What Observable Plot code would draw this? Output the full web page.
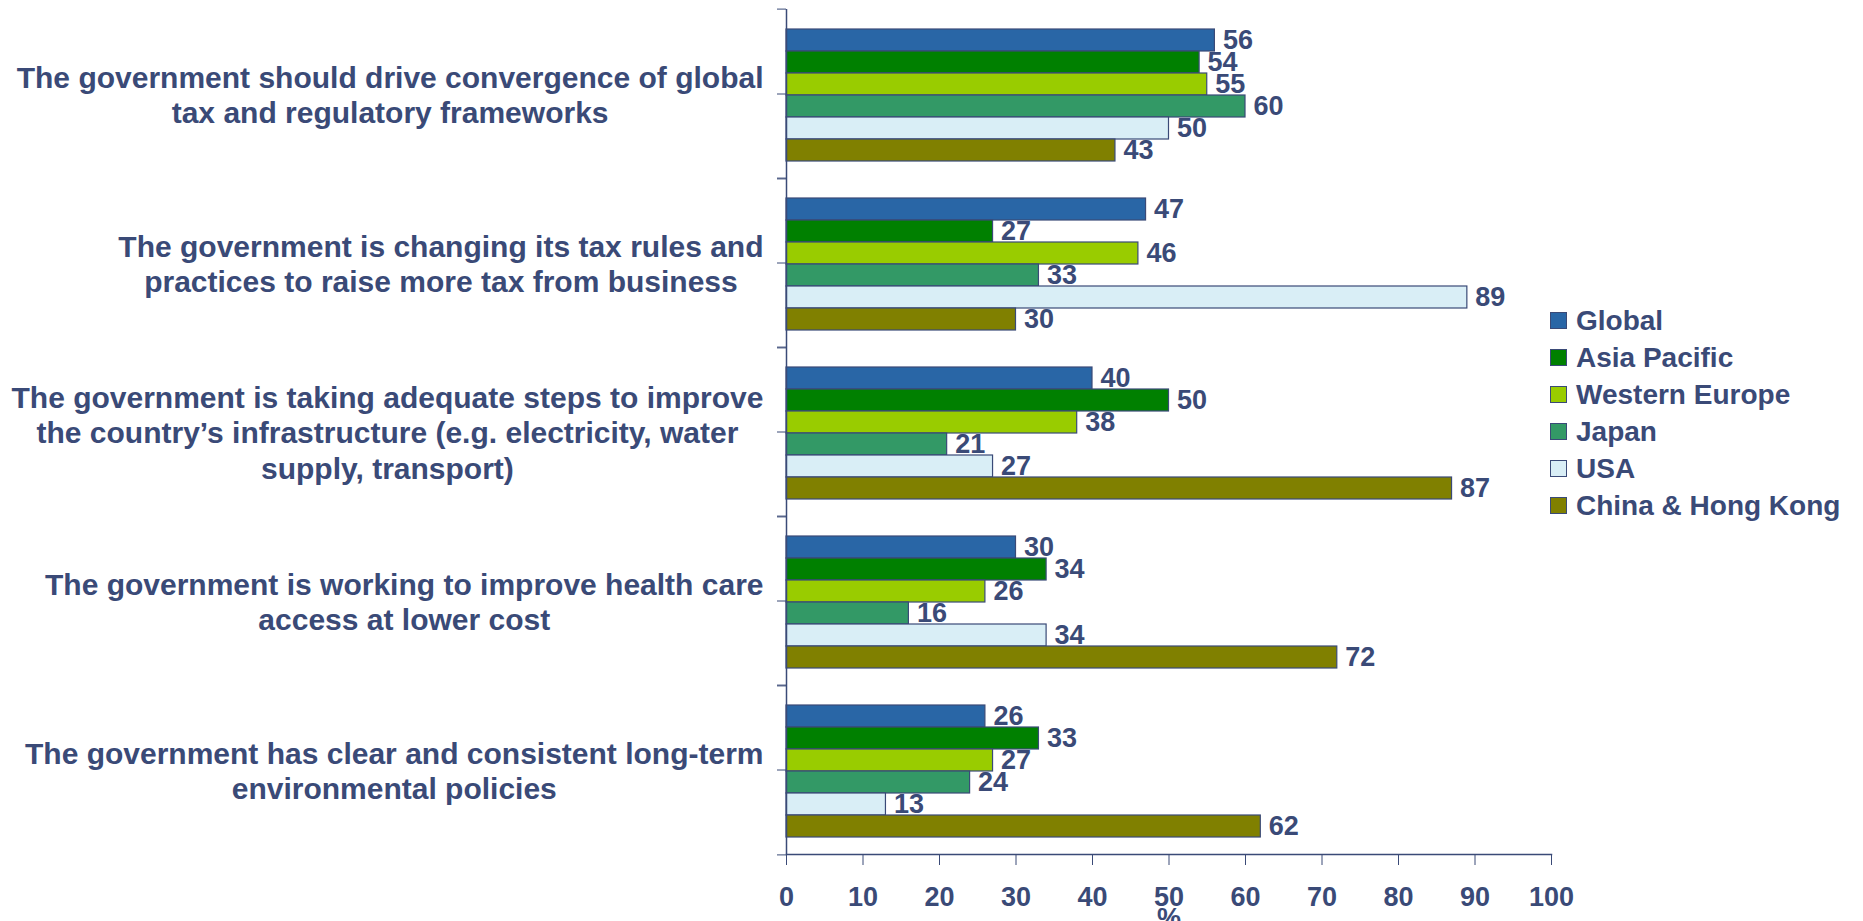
<!DOCTYPE html>
<html>
<head>
<meta charset="utf-8">
<script src="https://cdn.jsdelivr.net/npm/d3@7"></script>
<script src="https://cdn.jsdelivr.net/npm/@observablehq/plot@0.6"></script>
<style>
  html, body { margin: 0; padding: 0; background: #fff; }
  #wrap { position: relative; width: 1863px; height: 921px; overflow: hidden; }
  #legend { position: absolute; left: 1550px; top: 302px; font-family: "Liberation Sans", Arial, sans-serif; font-weight: bold; font-size: 28px; color: #3A4A77; }
  #legend .row { display: flex; align-items: center; height: 37px; white-space: nowrap; }
  #legend .sw { width: 15px; height: 15px; border: 1px solid #3A4A77; margin-right: 9px; flex: none; }
</style>
</head>
<body>
<div id="wrap"><div id="legend"></div></div>
<script>
// ---- data ----
const categories = [
  "The government should drive convergence of global\ntax and regulatory frameworks",
  "The government is changing its tax rules and\npractices to raise more tax from business",
  "The government is taking adequate steps to improve\nthe country\u2019s infrastructure (e.g. electricity, water\nsupply, transport)",
  "The government is working to improve health care\naccess at lower cost",
  "The government has clear and consistent long-term\nenvironmental policies"
];
const series = ["Global", "Asia Pacific", "Western Europe", "Japan", "USA", "China & Hong Kong"];
const globalValues       = [56, 47, 40, 30, 26];
const asiaPacificValues  = [54, 27, 50, 34, 33];
const westernEurope      = [55, 46, 38, 26, 27];
const japanValues        = [60, 33, 21, 16, 24];
const usaValues          = [50, 89, 27, 34, 13];
const chinaHongKong      = [43, 30, 87, 72, 62];
const seriesColors = ["#2966A6", "#008000", "#99CC00", "#339966", "#D9EEF6", "#808000"];
const xTicks = [0, 10, 20, 30, 40, 50, 60, 70, 80, 90, 100];
const xLabel = "%";

const valueLists = [globalValues, asiaPacificValues, westernEurope, japanValues, usaValues, chinaHongKong];
const rows = [];
categories.forEach((c, ci) => {
  series.forEach((s, si) => rows.push({category: c, series: s, value: valueLists[si][ci]}));
});

// ---- layout ----
const W = 1863, H = 921, mL = 786, mR = 312, mT = 7, mB = 65;
const halfStep = (H - mT - mB) / categories.length / 2;
const ink = "#3A4A77";
const font = '"Liberation Sans", Arial, Helvetica, sans-serif';

const chart = Plot.plot({
  width: W, height: H,
  marginLeft: mL, marginRight: mR, marginTop: mT, marginBottom: mB,
  style: {fontFamily: font, color: ink, background: "white", overflow: "visible"},
  x: {domain: [0, 100]},
  y: {domain: series, paddingInner: 0, paddingOuter: 0.72, align: 0.55, axis: null},
  fy: {domain: categories, padding: 0},
  color: {domain: series, range: seriesColors},
  marks: [
    Plot.barX(rows, {x: "value", y: "series", fy: "category", fill: "series", stroke: ink, strokeWidth: 1.2}),
    Plot.text(rows, {x: "value", y: "series", fy: "category", text: d => String(d.value),
      textAnchor: "start", dx: 8, fill: ink, fontSize: 27, fontWeight: "bold"}),
    Plot.ruleX([0], {stroke: ink, strokeWidth: 1.5}),
    Plot.frame({anchor: "bottom", facetAnchor: "bottom", stroke: ink, strokeWidth: 1.5}),
    Plot.axisFy({anchor: "left", tickSize: 9, tickPadding: 14, stroke: ink, fill: ink,
      fontSize: 30, fontWeight: "bold", lineHeight: 1.19, label: null}),
    Plot.axisFy({anchor: "left", tickSize: 9, fill: "none", stroke: ink, dy: -halfStep, label: null}),
    Plot.axisFy({anchor: "left", tickSize: 9, fill: "none", stroke: ink, dy: halfStep, label: null}),
    Plot.axisX({anchor: "bottom", ticks: xTicks, tickSize: 11, tickPadding: 21, stroke: ink, fill: ink,
      fontSize: 27, fontWeight: "bold", label: xLabel, labelAnchor: "center", labelArrow: "none", labelOffset: 72})
  ]
});

document.getElementById("wrap").prepend(chart);

// center each wrapped category label's lines within its block, block right-aligned to the axis
chart.querySelectorAll('[aria-label="fy-axis tick label"] text').forEach(t => {
  const w = t.getBBox().width;
  t.setAttribute("text-anchor", "middle");
  t.setAttribute("transform", (t.getAttribute("transform") || "") + ` translate(${-w / 2},0)`);
});

// legend
const legend = document.getElementById("legend");
const color = chart.scale("color");
series.forEach(s => {
  const row = document.createElement("div");
  row.className = "row";
  const sw = document.createElement("span");
  sw.className = "sw";
  sw.style.background = color.apply(s);
  const lab = document.createElement("span");
  lab.textContent = s;
  row.append(sw, lab);
  legend.append(row);
});
</script>
</body>
</html>
